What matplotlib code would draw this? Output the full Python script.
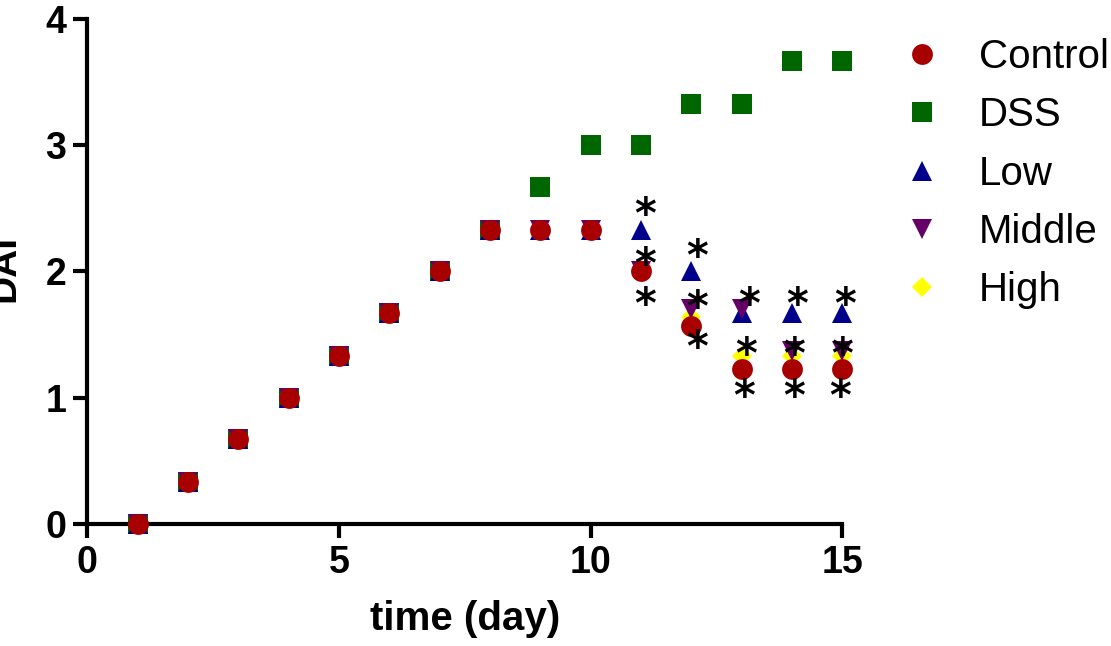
import matplotlib
matplotlib.use('Agg')
import matplotlib.pyplot as plt
from matplotlib.transforms import offset_copy

plt.rcParams['font.family'] = ['Liberation Sans', 'DejaVu Sans']

# DAI score per day for each group
days = [1, 2, 3, 4, 5, 6, 7, 8, 9, 10, 11, 12, 13, 14, 15]
control = [0, 0.33, 0.67, 1, 1.33, 1.67, 2, 2.33, 2.33, 2.33, 2.0, 1.57, 1.23, 1.23, 1.23]
dss = [0, 0.33, 0.67, 1, 1.33, 1.67, 2, 2.33, 2.67, 3, 3, 3.33, 3.33, 3.67, 3.67]
low = [0, 0.33, 0.67, 1, 1.33, 1.67, 2, 2.33, 2.33, 2.33, 2.33, 2.0, 1.67, 1.67, 1.67]
middle = [0, 0.33, 0.67, 1, 1.33, 1.67, 2, 2.33, 2.33, 2.33, 2.0, 1.70, 1.70, 1.37, 1.37]
high = [0, 0.33, 0.67, 1, 1.33, 1.67, 2, 2.33, 2.33, 2.33, 2.0, 1.64, 1.33, 1.33, 1.33]

# significance marks (day, DAI)
star_x = [11.08, 11.08, 11.08, 12.11, 12.11, 12.11, 13.15, 13.08, 13.04,
          14.11, 14.04, 14.04, 15.05, 15.0, 14.95]
star_y = [2.50, 2.11, 1.79, 2.17, 1.77, 1.45, 1.79, 1.39, 1.06,
          1.79, 1.39, 1.06, 1.79, 1.39, 1.06]

fig = plt.figure(figsize=(11.11, 6.46), dpi=100)
ax = fig.add_axes([0.0786, 0.1889, 0.6796, 0.7817])

ms = 15
h_dss, = ax.plot(days, dss, 's', color='#006600', ms=ms, mew=0, zorder=2, clip_on=False)
h_low, = ax.plot(days, low, '^', color='#00008B', ms=ms, mew=0, zorder=3, clip_on=False)
h_high, = ax.plot(days, high, 'D', color='#FFFF00', ms=10.5, mew=0, zorder=4, clip_on=False)
h_mid, = ax.plot(days, middle, 'v', color='#660066', ms=ms, mew=0, zorder=5, clip_on=False)
h_ctrl, = ax.plot(days, control, 'o', color='#A80000', ms=ms, mew=0, zorder=6, clip_on=False)

# asterisk glyph sits high in its box, nudge it down a bit
star_tr = offset_copy(ax.transData, fig=fig, y=-8, units='dots')
for sx, sy in zip(star_x, star_y):
    ax.text(sx, sy, '*', ha='center', va='center', fontsize=30, fontweight='bold',
            family='DejaVu Sans', zorder=7, clip_on=False, transform=star_tr)

ax.set_xlim(0, 15)
ax.set_ylim(0, 4)
ax.set_xticks([0, 5, 10, 15])
ax.set_yticks([0, 1, 2, 3, 4])

for side in ['top', 'right']:
    ax.spines[side].set_visible(False)
for side in ['left', 'bottom']:
    ax.spines[side].set_linewidth(3)
ax.tick_params(width=3, length=10, pad=5, labelsize=27)
for lab in ax.get_xticklabels() + ax.get_yticklabels():
    lab.set_fontweight('bold')

ax.set_xlabel('time (day)', fontsize=29, fontweight='bold', labelpad=14)
fig.text(22 / 1111, 1 - 268 / 646, 'DAI', rotation=90, ha='right', va='center',
         fontsize=28, fontweight='bold')

leg = ax.legend([h_ctrl, h_dss, h_low, h_mid, h_high],
                ['Control', 'DSS', 'Low', 'Middle', 'High'],
                loc='upper left', bbox_to_anchor=(902 / 1111, 1 - 38 / 646),
                bbox_transform=fig.transFigure, frameon=False, fontsize=29,
                handlelength=1.0, handletextpad=0.9, labelspacing=0.505,
                borderpad=0, borderaxespad=0)

fig.savefig('out.png', dpi=100)
